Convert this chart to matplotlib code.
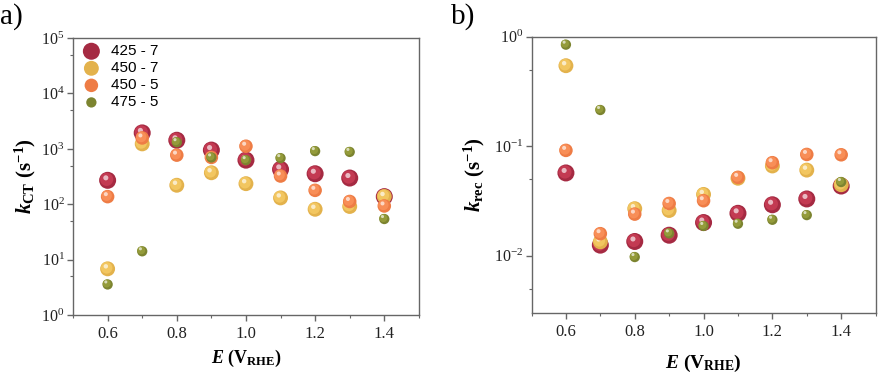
import math

import matplotlib
matplotlib.use("Agg")
import matplotlib.pyplot as plt
from matplotlib.transforms import offset_copy
from matplotlib.ticker import LogLocator, FixedLocator, FuncFormatter

plt.rcParams["font.family"] = ["Liberation Serif", "DejaVu Serif"]
plt.rcParams["mathtext.fontset"] = "custom"
plt.rcParams["mathtext.rm"] = "Liberation Serif:bold"
plt.rcParams["mathtext.it"] = "Liberation Serif:italic:bold"
plt.rcParams["mathtext.bf"] = "Liberation Serif:bold"

potential = [0.6, 0.7, 0.8, 0.9, 1.0, 1.1, 1.2, 1.3, 1.4]
series_names = ["425 - 7", "450 - 7", "450 - 5", "475 - 5"]

# charge transfer rate constants (s^-1)
kct_425_7 = [270, 1940, 1430, 950, 625, 425, 355, 297, 137]
kct_450_7 = [6.8, 1230, 220, 370, 235, 130, 81, 91, 138]
kct_450_5 = [137, 1575, 770, 700, 1115, 323, 178, 112, 93]
kct_475_5 = [3.55, 14.1, 1320, 700, 625, 680, 910, 880, 54]

# recombination rate constants (s^-1)
krec_425_7 = [0.057, 0.0125, 0.0135, 0.0154, 0.0201, 0.0244, 0.0292, 0.033, 0.0433]
krec_450_7 = [0.543, 0.0134, 0.0269, 0.0259, 0.0363, 0.051, 0.066, 0.0605, 0.0445]
krec_450_5 = [0.0916, 0.0159, 0.024, 0.030, 0.0318, 0.0519, 0.0707, 0.0841, 0.0835]
krec_475_5 = [0.845, 0.214, 0.00973, 0.016, 0.0187, 0.0196, 0.0213, 0.0235, 0.0471]

colors = ["#c33a52", "#f2c660", "#f88e57", "#949b3a"]
edge_colors = ["#a52a42", "#e3b24c", "#ee7c45", "#7c8430"]
sizes = [150, 115, 95, 55]

fig = plt.figure(figsize=(8.8, 3.74), dpi=100)
ax_a = fig.add_axes([0.083, 0.158, 0.393, 0.740])
ax_b = fig.add_axes([0.604, 0.163, 0.391, 0.739])


def sphere(ax, x, y, i, label=None):
    ax.scatter(x, y, s=sizes[i], color=edge_colors[i], edgecolors="none",
               label=label, zorder=2 + i)
    shift = offset_copy(ax.transData, fig=fig, x=-0.7, y=0.7, units="points")
    ax.scatter(x, y, s=sizes[i] * 0.6, color=colors[i], edgecolors="none",
               transform=shift, zorder=2 + i)
    hl = offset_copy(ax.transData, fig=fig, x=-1.3, y=1.8, units="points")
    ax.scatter(x, y, s=sizes[i] * 0.09, color="white", alpha=0.65,
               edgecolors="none", transform=hl, zorder=2 + i)


def style_axes(ax):
    ax.set_yscale("log")
    ax.set_xlim(0.5, 1.5)
    ax.xaxis.set_major_locator(FixedLocator([0.6, 0.8, 1.0, 1.2, 1.4]))
    ax.xaxis.set_minor_locator(FixedLocator([0.5, 0.7, 0.9, 1.1, 1.3, 1.5]))
    ax.xaxis.set_major_formatter(FuncFormatter(lambda v, p: f"{v:.1f}"))
    ax.yaxis.set_major_locator(LogLocator(base=10, numticks=10))
    ax.yaxis.set_minor_locator(LogLocator(base=10, subs=[5], numticks=10))
    ax.yaxis.set_minor_formatter(plt.NullFormatter())
    ax.yaxis.set_major_formatter(FuncFormatter(
        lambda v, p: r"$\mathregular{10^{%d}}$" % round(math.log10(v))))
    for sp in ax.spines.values():
        sp.set_color("#666666")
        sp.set_linewidth(1.0)
    ax.tick_params(which="both", direction="out", color="#666666",
                   top=False, right=False)
    ax.tick_params(which="major", length=4, width=1.0)
    ax.tick_params(which="minor", length=2.5, width=0.8)
    ax.tick_params(axis="x", labelsize=12, pad=4, labelcolor="#222222")
    ax.tick_params(axis="y", labelsize=11.5, pad=2, labelcolor="#222222")


# panel a
for i, vals in enumerate([kct_425_7, kct_450_7, kct_450_5, kct_475_5]):
    sphere(ax_a, potential, vals, i, label=series_names[i])
style_axes(ax_a)
ax_a.set_ylim(1, 1e5)
ax_a.set_xlabel(r"$\mathit{E}$ (V$_{\mathrm{RHE}}$)", fontsize=13,
                fontweight="bold", labelpad=4)
ax_a.set_ylabel(r"$\mathit{k}_{\mathrm{CT}}$ (s$^{-1}$)", fontsize=15,
                fontweight="bold", labelpad=2)
ax_a.legend(loc="upper left", frameon=False, handletextpad=0.5,
            handlelength=1.6, labelspacing=0.2, borderaxespad=0.1,
            borderpad=0.3, scatterpoints=1,
            prop={"family": "Liberation Sans", "size": 11})

# panel b
for i, vals in enumerate([krec_425_7, krec_450_7, krec_450_5, krec_475_5]):
    sphere(ax_b, potential, vals, i)
style_axes(ax_b)
ax_b.set_ylim(0.003, 1)
ax_b.set_xlabel(r"$\mathit{E}$ (V$_{\mathrm{RHE}}$)", fontsize=14,
                fontweight="bold", labelpad=9)
ax_b.set_ylabel(r"$\mathit{k}_{\mathrm{rec}}$ (s$^{-1}$)", fontsize=15,
                fontweight="bold", labelpad=5)

fig.text(0.0, 0.955, "a)", fontsize=21, va="center", ha="left")
fig.text(0.513, 0.955, "b)", fontsize=21, va="center", ha="left")

fig.savefig("out.png", dpi=100)
